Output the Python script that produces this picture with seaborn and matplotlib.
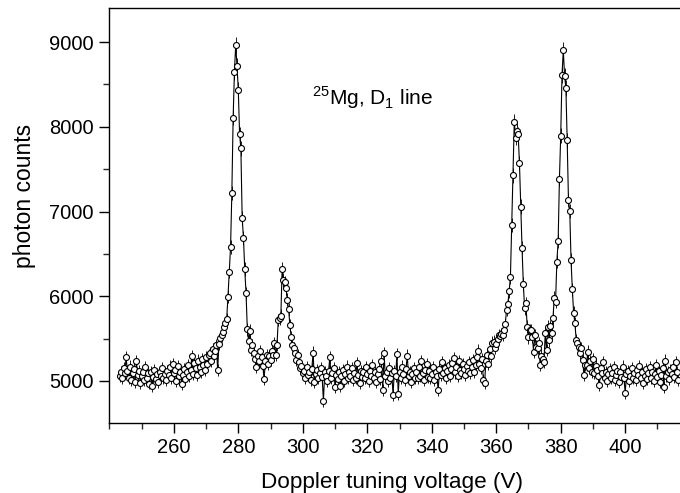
import numpy as np
import pandas as pd
import matplotlib
matplotlib.use("Agg")
import matplotlib.pyplot as plt
from matplotlib.ticker import MultipleLocator
import seaborn as sns

# scan settings (V) and photon counts, one row = 4 V
v_start = 243.2
v_step = 0.4
counts = [
    5060, 5110, 5030, 5150, 5090, 5280, 5120, 5040, 5170, 5010,
    5090, 5140, 4990, 5230, 5070, 5120, 4980, 5060, 5100, 5010,
    5160, 5040, 5090, 4970, 5110, 4940, 5050, 5130, 5020, 5080,
    4990, 5100, 5060, 5150, 5030, 5080, 5010, 5120, 5070, 5170,
    5040, 5200, 5090, 5130, 5000, 5180, 5060, 5110, 4960, 5070,
    5140, 5020, 5100, 5190, 5060, 5130, 5290, 5080, 5210, 5150,
    5070, 5240, 5170, 5110, 5260, 5190, 5130, 5280, 5200, 5310,
    5330, 5240, 5380, 5300, 5350, 5425, 5130, 5440, 5504, 5540,
    5583, 5640, 5680, 5732, 5996, 6291, 6583, 7220, 8106, 8646,
    8968, 8717, 8433, 7914, 7744, 6925, 6689, 6319, 6036, 5610,
    5476, 5594, 5366, 5420, 5327, 5260, 5169, 5300, 5230, 5350,
    5280, 5180, 5020, 5240, 5310, 5200, 5290, 5250, 5350, 5310,
    5445, 5307, 5425, 5720, 5740, 5768, 6323, 6193, 6166, 6095,
    5960, 5847, 5661, 5516, 5425, 5386, 5327, 5248, 5307, 5228,
    5150, 5180, 5090, 5120, 5040, 5160, 5070, 5110, 5010, 5140,
    5335, 4990, 5080, 5130, 5030, 5090, 5150, 5050, 4764, 5100,
    5060, 5000, 5120, 5280, 5040, 5090, 5150, 4925, 5070, 5020,
    5110, 4941, 5060, 5130, 5000, 5080, 5170, 5030, 5100, 5060,
    5150, 5010, 5090, 5040, 5210, 5070, 4980, 5120, 5050, 5100,
    5030, 5160, 5080, 5000, 5120, 5060, 5190, 5040, 5100, 4990,
    5080, 5140, 5020, 5230, 4894, 5327, 5060, 5110, 5000, 5150,
    5040, 5090, 4835, 5120, 5060, 5315, 4846, 5100, 5030, 5170,
    5080, 5010, 5140, 5300, 5060, 5110, 4990, 5080, 5150, 5040,
    5100, 5030, 5170, 5060, 5230, 5090, 5010, 5130, 5200, 5050,
    5120, 5040, 5080, 5160, 5010, 5100, 5060, 4890, 5140, 5070,
    5228, 5090, 5150, 5040, 5120, 5190, 5060, 5140, 5210, 5270,
    5100, 5170, 5060, 5230, 5130, 5090, 5200, 5140, 5070, 5180,
    5120, 5220, 5090, 5160, 5250, 5110, 5190, 5280, 5358, 5200,
    5150, 5260, 5012, 4980, 5240, 5310, 5200, 5374, 5300, 5452,
    5464, 5386, 5440, 5500, 5543, 5531, 5555, 5543, 5600, 5673,
    5839, 5909, 6059, 6228, 6842, 7425, 8062, 7873, 7956, 7909,
    7571, 7059, 6574, 6146, 5858, 5918, 5641, 5516, 5602, 5600,
    5523, 5346, 5543, 5405, 5386, 5445, 5189, 5300, 5256, 5228,
    5563, 5366, 5641, 5480, 5650, 5563, 5741, 5984, 5937, 6409,
    6650, 7386, 7897, 8614, 8901, 8602, 8457, 7843, 7138, 7008,
    6425, 6083, 5807, 5681, 5484, 5445, 5398, 5327, 5386, 5250,
    5071, 5190, 5189, 5346, 5150, 5230, 5110, 5260, 5090, 5180,
    5130, 5060, 4953, 5150, 5090, 5228, 5040, 5110, 5000, 5080,
    5140, 5030, 5090, 5160, 5010, 5070, 5120, 4990, 5100, 5050,
    5170, 5030, 4862, 5080, 5120, 5000, 5060, 5150, 5040, 5090,
    5010, 5130, 5070, 5180, 5040, 5100, 4980, 5060, 5140, 5020,
    5090, 5160, 5040, 5110, 5000, 5080, 5190, 5050, 5120, 4990,
    5070, 5150, 4925, 5240, 5060, 5110, 5020, 5130, 5080, 5170,
    5050, 5228, 5100, 5010,
]
voltage = v_start + v_step * np.arange(len(counts))
errors = np.sqrt(counts)  # Poisson error of each count

x_ticks = [260, 280, 300, 320, 340, 360, 380, 400]
y_ticks = [5000, 6000, 7000, 8000, 9000]

sns.set_theme(style="ticks")
plt.rcParams["font.family"] = ["Liberation Sans", "DejaVu Sans"]
plt.rcParams["mathtext.fontset"] = "custom"
plt.rcParams["mathtext.rm"] = "Liberation Sans"
plt.rcParams["text.color"] = "black"
plt.rcParams["axes.labelcolor"] = "black"

fig = plt.figure(figsize=(6.8, 4.93), dpi=100)
ax = fig.add_axes([0.1603, 0.142, 0.853, 0.8418])

df = pd.DataFrame({"voltage": voltage, "counts": counts})
ax.errorbar(voltage, counts, yerr=errors, fmt="none", ecolor="#1a1a1a",
            elinewidth=0.7, capsize=0, zorder=1)
sns.lineplot(data=df, x="voltage", y="counts", ax=ax, color="black",
             linewidth=0.8, marker="o", markersize=4.3,
             markerfacecolor="white", markeredgecolor="black",
             markeredgewidth=0.8, zorder=2)

ax.set_xlim(239.9, 419.8)
ax.set_ylim(4504, 9402)
ax.set_xticks(x_ticks)
ax.set_yticks(y_ticks)
ax.xaxis.set_minor_locator(MultipleLocator(10))
ax.yaxis.set_minor_locator(MultipleLocator(500))
ax.tick_params(which="major", direction="out", length=7, width=1,
               labelsize=14.5, pad=4, colors="black")
ax.tick_params(which="minor", direction="out", length=4, width=1)
for side in ["left", "bottom", "top", "right"]:
    ax.spines[side].set_linewidth(1.0)
    ax.spines[side].set_color("black")

ax.set_xlabel("Doppler tuning voltage (V)", fontsize=16.2)
ax.set_ylabel("photon counts", fontsize=16.5)
ax.xaxis.set_label_coords(0.488, -0.117)
ax.yaxis.set_label_coords(-0.126, 0.547)

ax.text(302.8, 8260, r"$^{\mathregular{25}}$Mg, D$_{\mathregular{1}}$ line",
        fontsize=15, ha="left", va="baseline")

fig.savefig("out.png", dpi=100)
